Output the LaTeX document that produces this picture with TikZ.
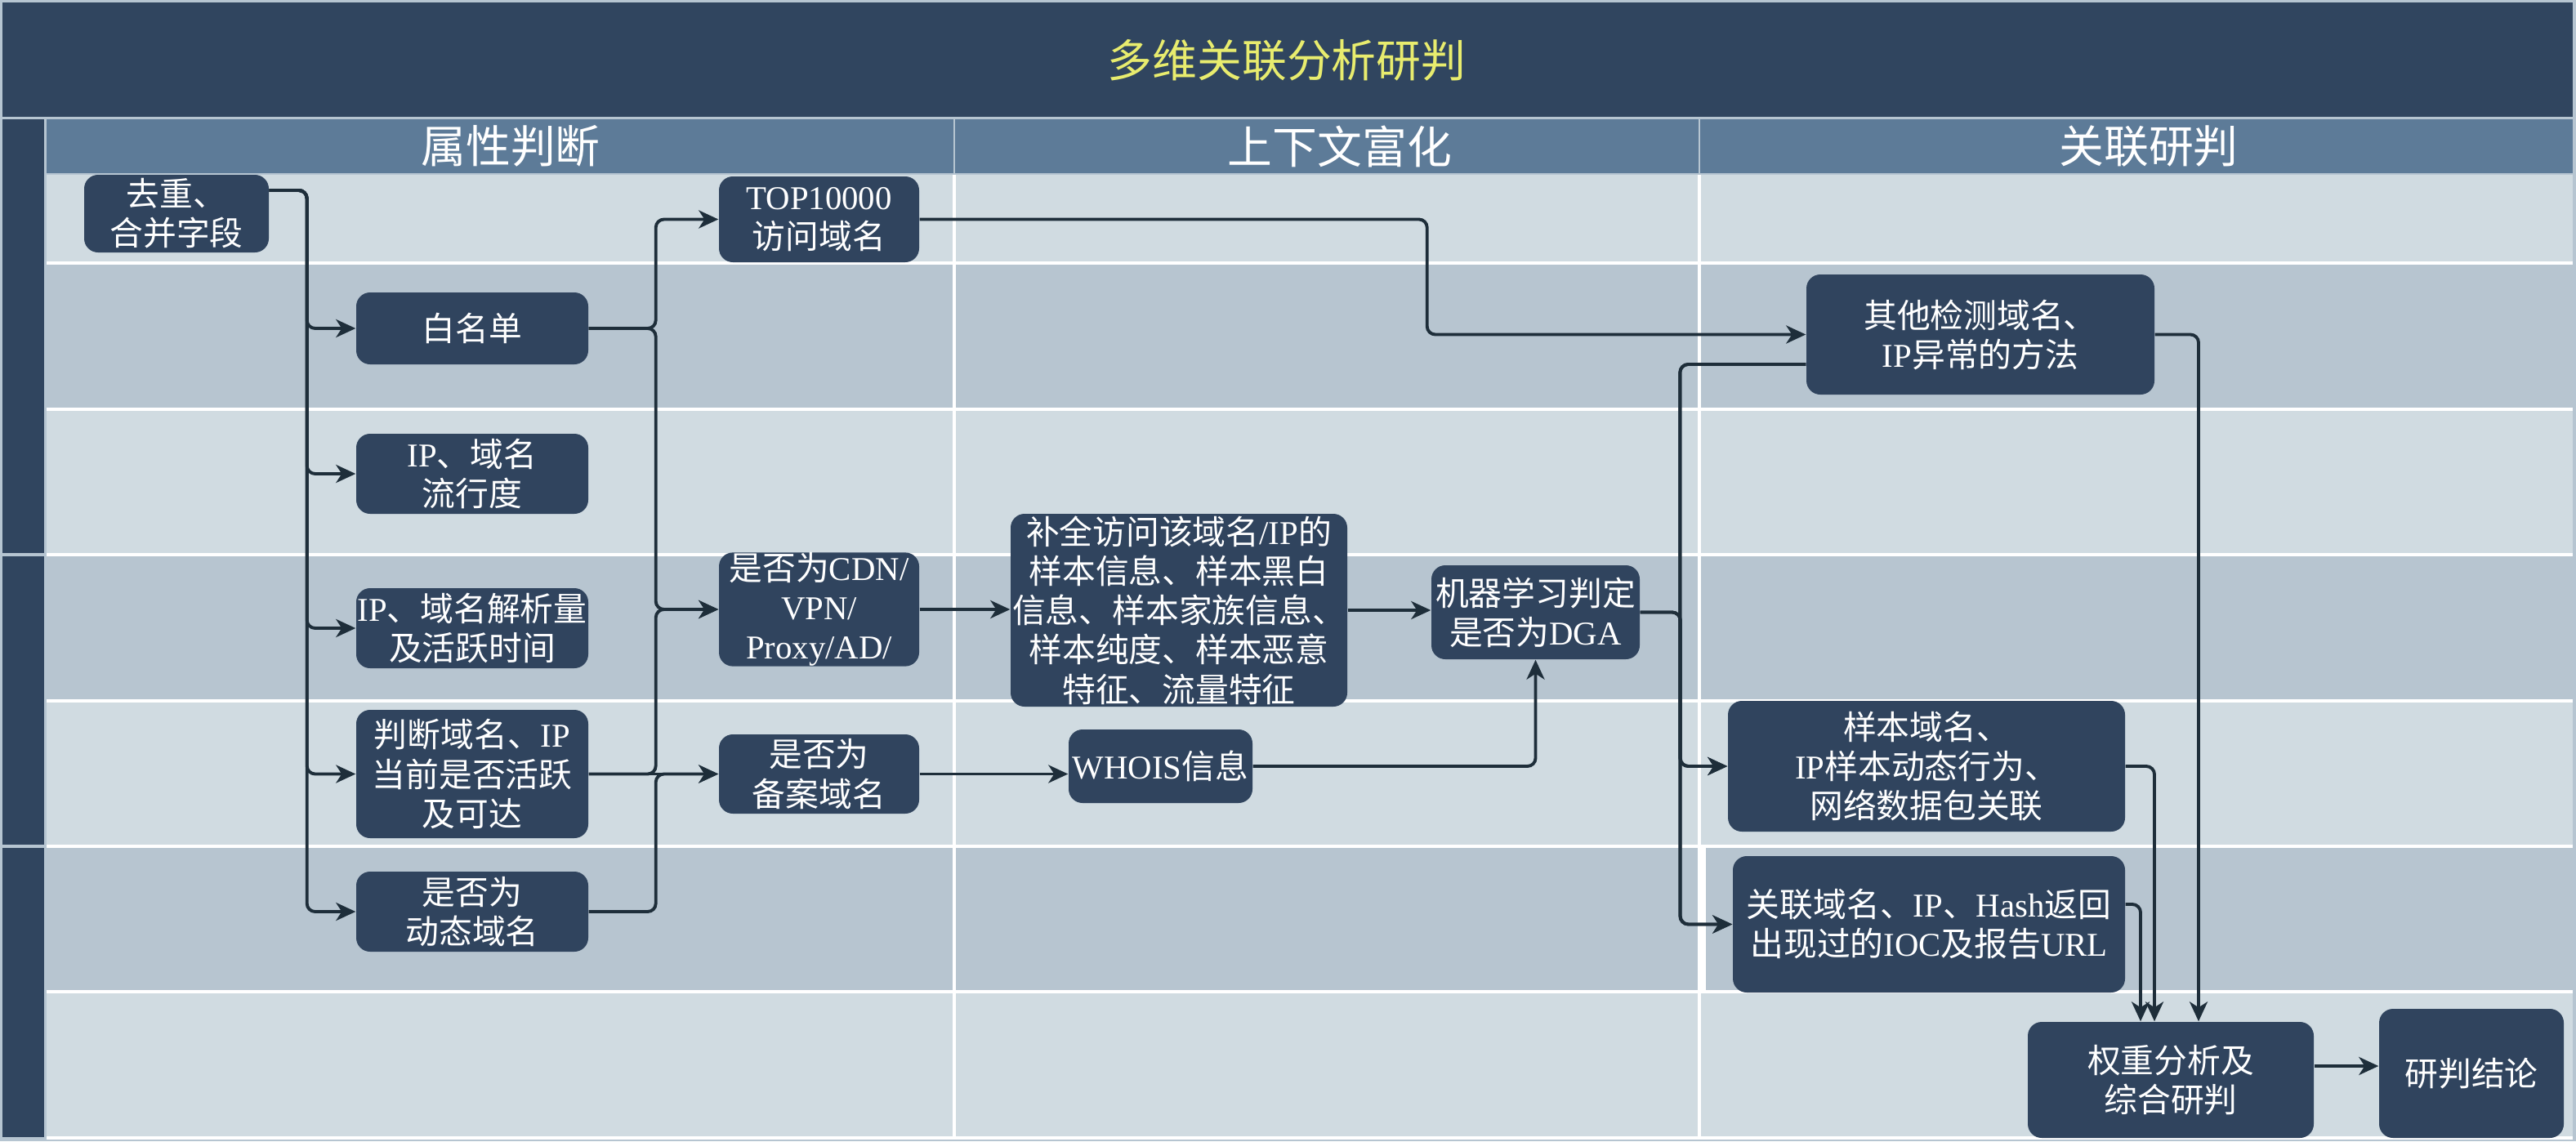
\documentclass[tikz,border=0pt]{standalone}
\usepackage{fontspec}
\setmainfont{Noto Sans CJK SC}
\newfontfamily\latfont{Liberation Serif}
\usepackage{tikz}
\usetikzlibrary{arrows.meta,calc,positioning}

\definecolor{frameclr}{HTML}{B6C5D1}
\definecolor{bandclr}{HTML}{30455F}
\definecolor{headclr}{HTML}{5D7B98}
\definecolor{rowlight}{HTML}{D0DBE1}
\definecolor{rowdark}{HTML}{B7C5D0}
\definecolor{boxclr}{HTML}{30445E}
\definecolor{lineclr}{HTML}{1E2E3A}
\definecolor{titleclr}{HTML}{E8EC6E}

\newcommand\latn[1]{{\latfont #1}}
\newcommand\boxfont{\fontsize{11.6pt}{13.7pt}\selectfont}
\newcommand\headfont{\fontsize{15.6pt}{18pt}\selectfont}

\begin{document}
\begin{tikzpicture}[
    box/.style={fill=boxclr, rounded corners=0.17cm, text=white, align=center,
      inner sep=0pt, font=\boxfont},
    flow/.style={draw=lineclr, line width=1.1pt, rounded corners=0.1cm,
      -{Stealth[length=0.24cm,width=0.22cm,inset=0.07cm]}},
    lane/.style={draw=white, line width=0.9pt}
  ]
  \useasboundingbox (0,0) rectangle (31.53,-13.97);

  % frame, title band, side bar
  \fill[frameclr] (0,0) rectangle (31.53,-13.97);
  \fill[bandclr] (0.03,-0.03) rectangle (31.49,-1.43);
  \fill[bandclr] (0.03,-1.46) rectangle (0.54,-6.77);
  \fill[bandclr] (0.03,-6.81) rectangle (0.54,-10.34);
  \fill[bandclr] (0.03,-10.38) rectangle (0.54,-13.92);
  \fill[headclr] (0.57,-1.46) rectangle (31.49,-2.12);
  \draw[frameclr, line width=0.8pt] (11.68,-1.46) -- (11.68,-2.12);
  \draw[frameclr, line width=0.8pt] (20.80,-1.46) -- (20.80,-2.12);

  % rows
  \fill[rowlight] (0.57,-2.14) rectangle (31.49,-3.22);
  \fill[rowdark]  (0.57,-3.22) rectangle (31.49,-5.01);
  \fill[rowlight] (0.57,-5.01) rectangle (31.49,-6.79);
  \fill[rowdark]  (0.57,-6.79) rectangle (31.49,-8.58);
  \fill[rowlight] (0.57,-8.58) rectangle (31.49,-10.36);
  \fill[rowdark]  (0.57,-10.36) rectangle (31.49,-12.14);
  \fill[rowlight] (0.57,-12.14) rectangle (31.49,-13.92);
  \foreach \y in {3.22,5.01,6.79,8.58,10.36,12.14,13.93}
    \draw[lane] (0.57,-\y) -- (31.49,-\y);
  \foreach \x in {11.68,20.80}
    \draw[lane] (\x,-2.14) -- (\x,-13.92);
  \fill[white] (20.79,-10.36) rectangle (20.88,-12.14);

  \node[text=titleclr, font=\headfont] (title) at (15.75,-0.74) {多维关联分析研判};
  \node[text=white, font=\headfont] (colA) at (6.25,-1.79) {属性判断};
  \node[text=white, font=\headfont] (colB) at (16.40,-1.79) {上下文富化};
  \node[text=white, font=\headfont] (colC) at (26.30,-1.79) {关联研判};

  % boxes
  \node[box, minimum width=2.26cm, minimum height=0.95cm] (qc) at (2.16,-2.615) {去重、\\合并字段};
  \node[box, minimum width=2.84cm, minimum height=0.88cm] (bm) at (5.78,-4.02) {白名单};
  \node[box, minimum width=2.84cm, minimum height=0.98cm] (lx) at (5.78,-5.80) {\latn{IP}、域名\\流行度};
  \node[box, minimum width=2.84cm, minimum height=0.98cm] (jx) at (5.78,-7.69) {\latn{IP}、域名解析量\\及活跃时间};
  \node[box, minimum width=2.84cm, minimum height=1.57cm] (pd) at (5.78,-9.475) {判断域名、\latn{IP}\\当前是否活跃\\及可达};
  \node[box, minimum width=2.84cm, minimum height=0.98cm] (dt) at (5.78,-11.16) {是否为\\动态域名};
  \node[box, minimum width=2.45cm, minimum height=1.05cm] (top) at (10.025,-2.685) {\latn{TOP10000}\\访问域名};
  \node[box, minimum width=2.45cm, minimum height=1.36cm] (cdn) at (10.025,-7.46) {是否为\latn{CDN/}\\\latn{VPN/}\\\latn{Proxy/AD/}};
  \node[box, minimum width=2.45cm, minimum height=0.97cm] (ba) at (10.025,-9.475) {是否为\\备案域名};
  \node[box, minimum width=4.12cm, minimum height=2.36cm] (bq) at (14.43,-7.47) {补全访问该域名\latn{/IP}的\\样本信息、样本黑白\\信息、样本家族信息、\\样本纯度、样本恶意\\特征、流量特征};
  \node[box, minimum width=2.55cm, minimum height=1.15cm] (ml) at (18.795,-7.495) {机器学习判定\\是否为\latn{DGA}};
  \node[box, minimum width=2.25cm, minimum height=0.90cm] (wh) at (14.205,-9.38) {\latn{WHOIS}信息};
  \node[box, minimum width=4.26cm, minimum height=1.47cm] (qt) at (24.24,-4.095) {其他检测域名、\\\latn{IP}异常的方法};
  \node[box, minimum width=4.86cm, minimum height=1.60cm] (yb) at (23.58,-9.38) {样本域名、\\\latn{IP}样本动态行为、\\网络数据包关联};
  \node[box, minimum width=4.80cm, minimum height=1.67cm] (gl) at (23.61,-11.315) {关联域名、\latn{IP}、\latn{Hash}返回\\出现过的\latn{IOC}及报告\latn{URL}};
  \node[box, minimum width=3.50cm, minimum height=1.42cm] (qz) at (26.57,-13.22) {权重分析及\\综合研判};
  \node[box, minimum width=2.26cm, minimum height=1.58cm] (jl) at (30.25,-13.14) {研判结论};

  % connectors
  \foreach \t in {bm,lx,jx,pd,dt}
    \draw[flow] ([yshift=0.285cm]qc.east) -- ++(0.46,0) |- (\t.west);
  \draw[flow] (bm.east) -- ++(0.82,0) |- (top.west);
  \draw[flow] (bm.east) -- ++(0.82,0) |- (cdn.west);
  \draw[flow] (pd.east) -- ++(0.82,0) |- (cdn.west);
  \draw[flow] (pd.east) -- (ba.west);
  \draw[flow] (dt.east) -- ++(0.82,0) |- (ba.west);
  \draw[flow] (top.east) -- ++(6.21,0) |- (qt.west);
  \draw[flow] (cdn.east) -- (cdn.east -| bq.west);
  \draw[flow] (bq.east) -- (bq.east -| ml.west);
  \draw[flow] (ba.east) -- (ba.east -| wh.west);
  \draw[flow] (wh.east) -| (ml.south);
  \draw[flow] (ml.east) -- ++(0.49,0) |- (yb.west);
  \draw[flow] (ml.east) -- ++(0.49,0) |- (gl.west);
  \draw[flow] ([yshift=-0.365cm]qt.west) -- ++(-1.54,0) |- (yb.west);
  \draw[flow] ([yshift=-0.365cm]qt.west) -- ++(-1.54,0) |- (gl.west);
  \draw[flow] (qt.east) -| ([xshift=0.34cm]qz.north);
  \draw[flow] (yb.east) -| ([xshift=-0.20cm]qz.north);
  \draw[flow] ([yshift=0.245cm]gl.east) -| ([xshift=-0.37cm]qz.north);
  \draw[flow] ([yshift=0.17cm]qz.east) -- ([yshift=0.17cm]qz.east -| jl.west);
\end{tikzpicture}
\end{document}
